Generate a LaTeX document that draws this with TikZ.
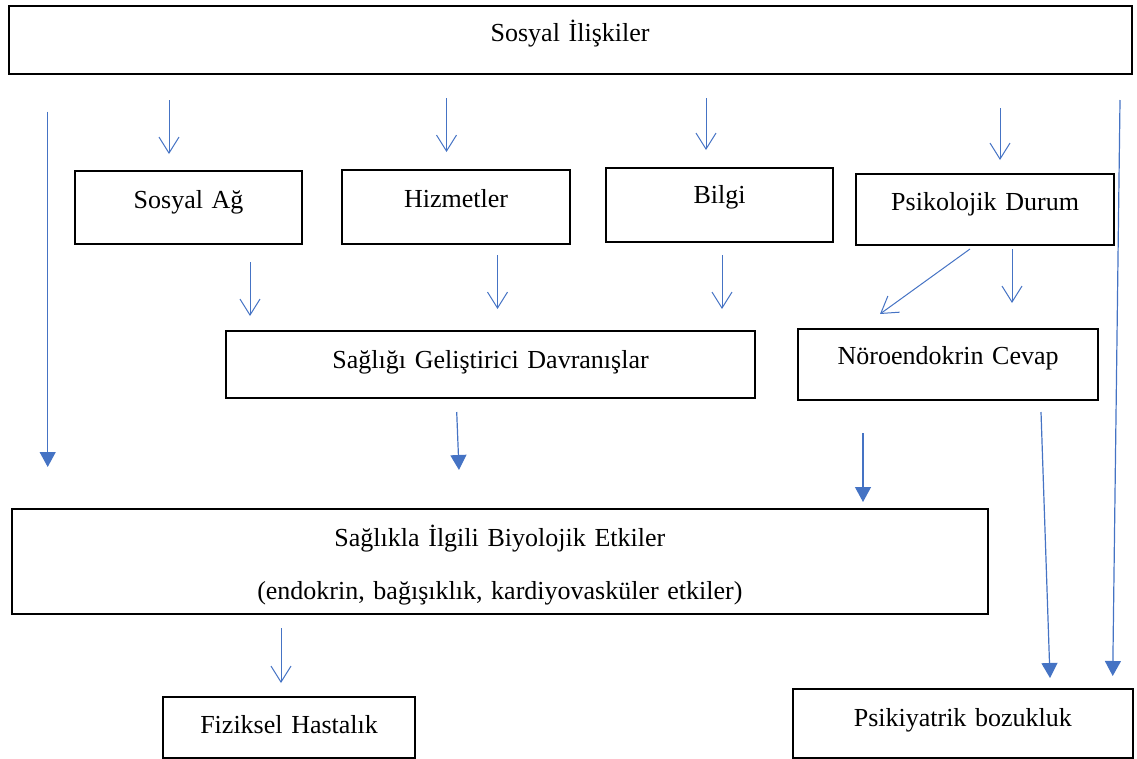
\documentclass[tikz,border=0pt]{standalone}
\usepackage{fontspec}
\setmainfont{Liberation Serif}
\usepackage{tikz}
\usetikzlibrary{arrows.meta}
\definecolor{wblue}{rgb}{0.27, 0.45, 0.77}
\tikzset{box/.style = {draw, line width = 2.2pt, inner sep = 0pt, anchor = north west,
                       align = center, font = \fontsize{26pt}{31pt}\selectfont}}
\tikzset{varr/.style = {wblue, line width = 1pt, -{Straight Barb[length=16pt, width=20pt]}}}
\tikzset{farr/.style = {wblue, line width = 1.2pt, -{Triangle[length=15pt, width=16pt]}}}

\begin{document}
\begin{tikzpicture}[x = 1pt, y = -1pt]
    \useasboundingbox (0, 0) rectangle (1137, 758);

    \node [box, text width = 1123pt, text height = 36pt, text depth = 32pt] (sosyal) at (7.5, 4.7) {Sosyal İlişkiler};

    \node [box, text width = 227pt, text height = 37pt, text depth = 36pt] (ag) at (74, 170) {Sosyal Ağ};
    \node [box, text width = 228pt, text height = 37pt, text depth = 37pt] (hizmet) at (341, 169) {Hizmetler};
    \node [box, text width = 227pt, text height = 36pt, text depth = 38pt] (bilgi) at (605, 166.7) {Bilgi};
    \node [box, text width = 258pt, text height = 36pt, text depth = 35pt] (psiko) at (855, 173) {Psikolojik Durum};

    \node [box, text width = 529pt, text height = 37pt, text depth = 30pt] (davran) at (225, 330) {Sağlığı Geliştirici Davranışlar};
    \node [box, text width = 300pt, text height = 35pt, text depth = 36pt] (noro) at (797, 328) {Nöroendokrin Cevap};

    \node [box, text width = 975.5pt, text height = 37pt, text depth = 68pt] (biyo) at (11, 508)
      {Sağlıkla İlgili Biyolojik Etkiler\\[22pt](endokrin, bağışıklık, kardiyovasküler etkiler)};

    \node [box, text width = 252pt, text height = 36pt, text depth = 25pt] (fizik) at (162, 696) {Fiziksel Hastalık};
    \node [box, text width = 339.5pt, text height = 37pt, text depth = 32pt] (psikiy) at (792, 688) {Psikiyatrik bozukluk};

    % arrow ends
    \coordinate (s1) at (169, 100);    \coordinate (e1) at (169, 154);
    \coordinate (s2) at (446.5, 98);   \coordinate (e2) at (446.5, 152);
    \coordinate (s3) at (706, 98);     \coordinate (e3) at (706, 150);
    \coordinate (s4) at (1000, 108);   \coordinate (e4) at (1000, 160);
    \coordinate (s5) at (250, 262);    \coordinate (e5) at (250, 316);
    \coordinate (s6) at (497.5, 255);  \coordinate (e6) at (497.5, 309);
    \coordinate (s7) at (722, 255);    \coordinate (e7) at (722, 309);
    \coordinate (s8) at (970, 249);    \coordinate (e8) at (880, 314);
    \coordinate (s9) at (1012, 249);   \coordinate (e9) at (1012, 303);
    \coordinate (s10) at (281, 628);   \coordinate (e10) at (281, 683);

    \coordinate (s11) at (47.7, 111.7); \coordinate (e11) at (47.7, 467);
    \coordinate (s12) at (456.7, 412);  \coordinate (e12) at (459, 470);
    \coordinate (s13) at (863, 433);    \coordinate (e13) at (863, 502);
    \coordinate (s14) at (1041, 412);   \coordinate (e14) at (1050, 678);
    \coordinate (s15) at (1120, 100);   \coordinate (e15) at (1112.7, 676);

    \draw [varr] (s1) -- (e1);
    \draw [varr] (s2) -- (e2);
    \draw [varr] (s3) -- (e3);
    \draw [varr] (s4) -- (e4);
    \draw [varr] (s5) -- (e5);
    \draw [varr] (s6) -- (e6);
    \draw [varr] (s7) -- (e7);
    \draw [varr] (s8) -- (e8);
    \draw [varr] (s9) -- (e9);
    \draw [varr] (s10) -- (e10);

    \draw [farr] (s11) -- (e11);
    \draw [farr] (s12) -- (e12);
    \draw [farr] (s13) -- (e13);
    \draw [farr] (s14) -- (e14);
    \draw [farr] (s15) -- (e15);
  \end{tikzpicture}
\end{document}
